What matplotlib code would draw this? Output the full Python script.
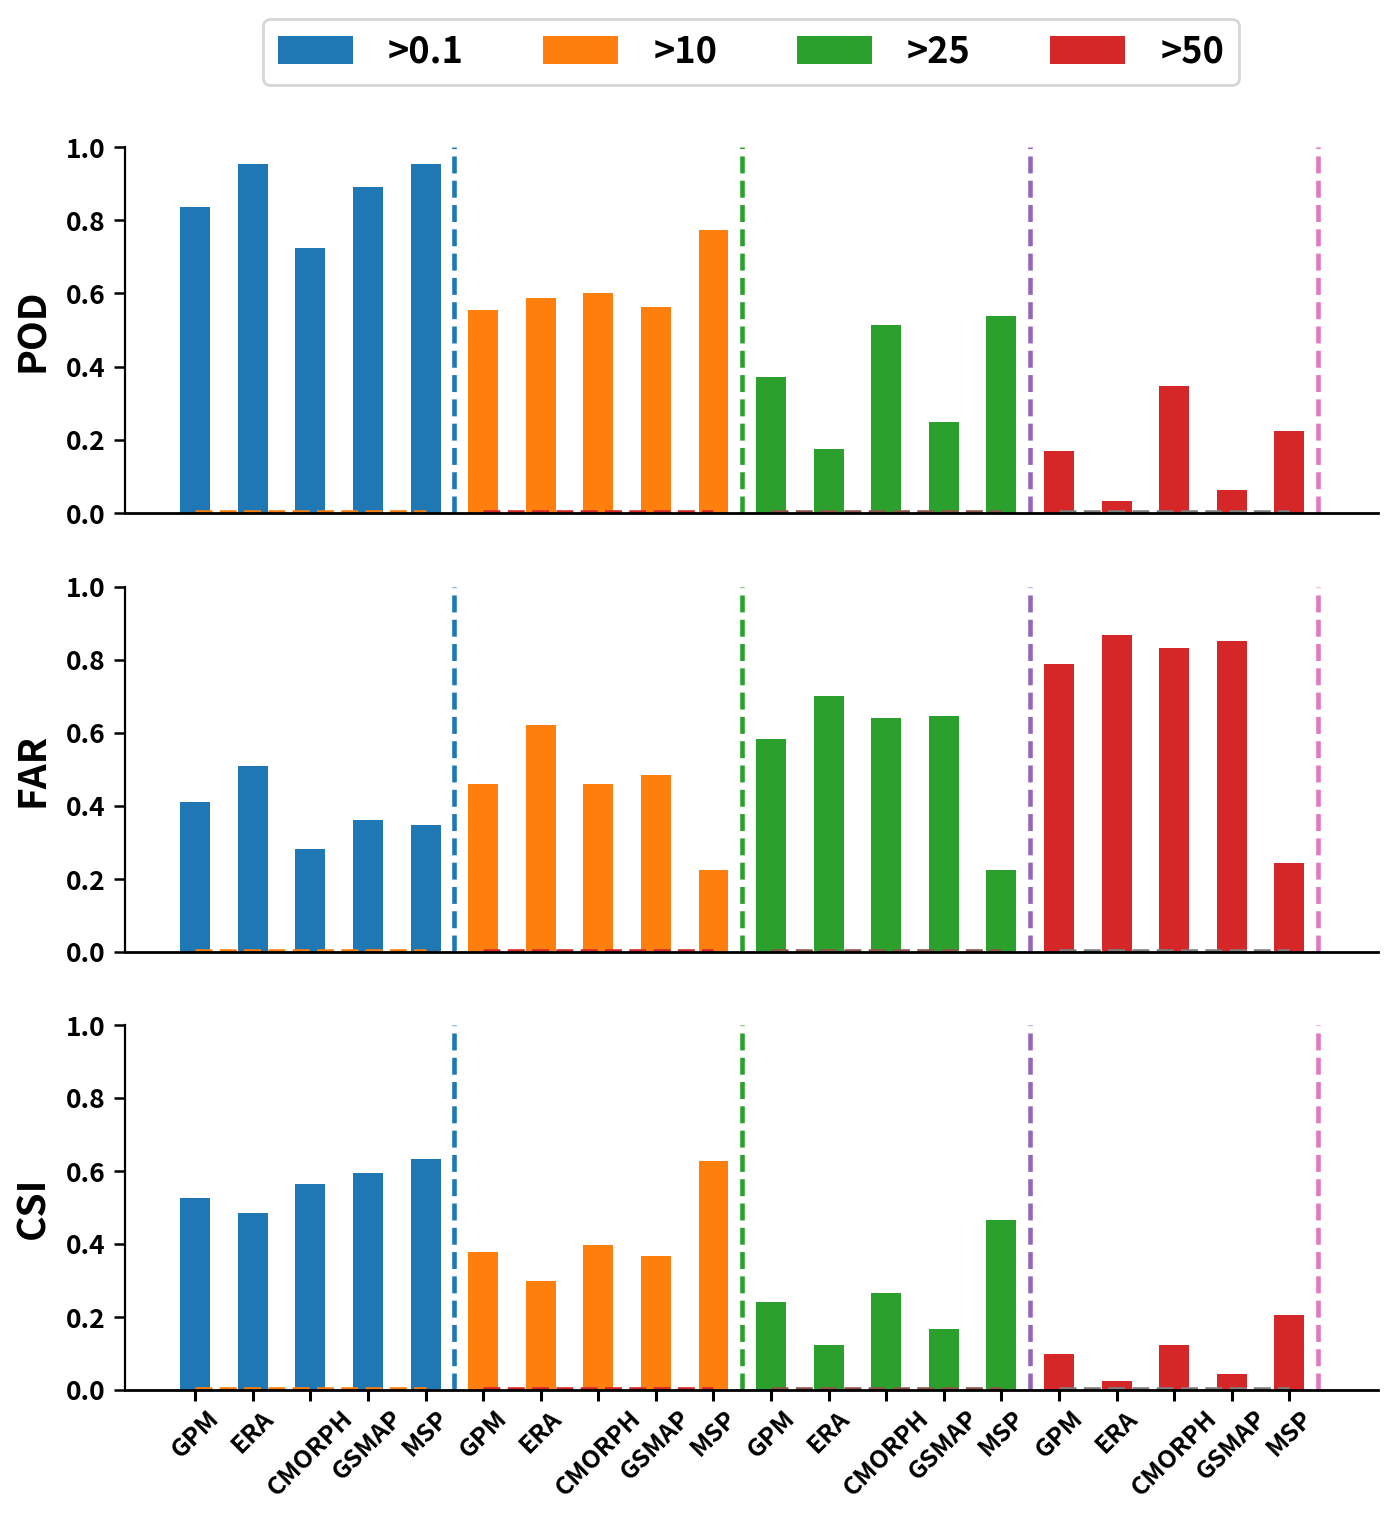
import numpy as np
import matplotlib.pyplot as plt

plt.rcParams['font.family'] = ['Noto Sans CJK SC', 'DejaVu Sans']
plt.rcParams['font.weight'] = 'bold'

PRODUCTS = ["GPM", "ERA", "CMORPH", "GSMAP", "MSP"]
THRESHOLDS = [">0.1", ">10", ">25", ">50"]

# one row per threshold, values in PRODUCTS order
POD = [
    [0.836, 0.954, 0.724, 0.891, 0.954],
    [0.555, 0.587, 0.601, 0.563, 0.773],
    [0.372, 0.175, 0.514, 0.249, 0.538],
    [0.169, 0.033, 0.347, 0.063, 0.224],
]
FAR = [
    [0.411, 0.510, 0.282, 0.362, 0.348],
    [0.460, 0.622, 0.460, 0.485, 0.225],
    [0.584, 0.701, 0.641, 0.647, 0.225],
    [0.789, 0.868, 0.833, 0.852, 0.244],
]
CSI = [
    [0.526, 0.485, 0.564, 0.595, 0.633],
    [0.378, 0.299, 0.397, 0.367, 0.627],
    [0.241, 0.123, 0.266, 0.167, 0.466],
    [0.099, 0.025, 0.123, 0.044, 0.205],
]
METRICS = ["POD", "FAR", "CSI"]

BAR_COLORS = ["tab:blue", "tab:orange", "tab:green", "tab:red"]
VLINE_COLORS = ["tab:blue", "tab:green", "tab:purple", "tab:pink"]
BASE_COLORS = ["tab:orange", "tab:red", "tab:brown", "tab:gray"]

W, H = 1395, 1524
fig = plt.figure(figsize=(W / 100, H / 100), dpi=100)

# axes boxes in pixels: (top, bottom)
boxes = [(147, 513), (587, 952), (1025, 1390)]
left, right = 125, 1378

axes = []
for top, bottom in boxes:
    ax = fig.add_axes([left / W, 1 - bottom / H, (right - left) / W, (bottom - top) / H])
    axes.append(ax)

n = len(PRODUCTS)
for ax, name, data in zip(axes, METRICS, [POD, FAR, CSI]):
    for g in range(len(THRESHOLDS)):
        x = np.arange(n) + n * g
        ax.bar(x, data[g], width=0.52, color=BAR_COLORS[g], label=THRESHOLDS[g])
        ax.plot(x, np.full(n, 0.002), '--', color=BASE_COLORS[g], lw=3.3)
        ax.axvline(x[-1] + 0.5, ls='--', color=VLINE_COLORS[g], lw=3.3)

    ax.set_xlim(-1.22, 20.54)
    ax.set_ylim(0, 1)
    ax.set_yticks(np.arange(0, 1.01, 0.2))
    ax.set_yticklabels([f"{v:.1f}" for v in np.arange(0, 1.01, 0.2)], fontsize=19, fontweight='bold')
    ax.set_ylabel(name, fontsize=28, fontweight='bold', labelpad=10)
    ax.spines['top'].set_visible(False)
    ax.spines['right'].set_visible(False)
    ax.spines['left'].set_linewidth(1.6)
    ax.spines['bottom'].set_linewidth(2.0)
    ax.tick_params(axis='y', length=8, width=1.8, pad=6)
    ax.tick_params(axis='x', length=8, width=2.2)

for ax in axes[:2]:
    ax.set_xticks([])

xt = np.arange(n * len(THRESHOLDS))
axes[2].set_xticks(xt)
axes[2].set_xticklabels(PRODUCTS * len(THRESHOLDS), rotation=45, fontsize=18, fontweight='bold')

handles, labels = axes[0].get_legend_handles_labels()
leg = fig.legend(handles, labels, loc='center', bbox_to_anchor=(751 / W, 1 - 52 / H),
                 ncol=4, prop={'size': 26, 'weight': 'bold'}, handlelength=2.08,
                 handleheight=0.78, handletextpad=0.97, columnspacing=2.2,
                 fancybox=True)
leg.get_frame().set_linewidth(2)

plt.savefig("out.png", dpi=100)
plt.close()
